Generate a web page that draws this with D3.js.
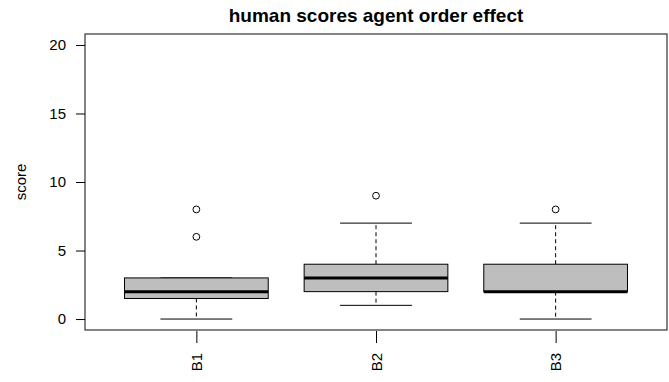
<!DOCTYPE html>
<html><head><meta charset="utf-8">
<script src="https://cdn.jsdelivr.net/npm/d3@7"></script>
<style>body{margin:0;background:#fff;} svg{display:block;}</style>
</head><body>
<script>
const categories = ["B1","B2","B3"];
const lowerWhisker = [0, 1, 0];
const q1 = [1.5, 2, 2];
const median = [2, 3, 2];
const q3 = [3, 4, 4];
const upperWhisker = [3, 7, 7];
const outliers = [[6, 8], [9], [8]];
const yTicks = [0, 5, 10, 15, 20];
const title = "human scores agent order effect";
const yLabel = "score";

(function () {
const W = 669, H = 382;
const pLeft = 85, pRight = 667, pTop = 34, pBottom = 330;
const svg = d3.select("body").append("svg").attr("width", W).attr("height", H);
const font = "'Liberation Sans', Arial, sans-serif";
const fs = 15;

const x = d3.scaleLinear().domain([0.38, 3.62]).range([pLeft, pRight]);
const y = d3.scaleLinear().domain([-0.8, 20.8]).range([pBottom, pTop]);
const step = x(2) - x(1);
const bw = step * 0.8, cw = bw * 0.5;

const data = categories.map((c, i) => ({c, i: i + 1, lw: lowerWhisker[i], q1: q1[i], med: median[i], q3: q3[i], uw: upperWhisker[i], out: outliers[i]}));

const g = svg.append("g");
data.forEach(d => {
  const cx = x(d.i);
  g.append("line").attr("x1", cx).attr("x2", cx).attr("y1", y(d.q3)).attr("y2", y(d.uw))
    .attr("stroke", "#000").attr("stroke-dasharray", "4,3");
  g.append("line").attr("x1", cx).attr("x2", cx).attr("y1", y(d.q1)).attr("y2", y(d.lw))
    .attr("stroke", "#000").attr("stroke-dasharray", "4,3");
  [d.lw, d.uw].forEach(v => g.append("line").attr("x1", cx - cw/2).attr("x2", cx + cw/2)
    .attr("y1", y(v)).attr("y2", y(v)).attr("stroke", "#000"));
  g.append("rect").attr("x", cx - bw/2).attr("width", bw).attr("y", y(d.q3)).attr("height", y(d.q1) - y(d.q3))
    .attr("fill", "#bebebe").attr("stroke", "#000").attr("stroke-width", 1);
  g.append("line").attr("x1", cx - bw/2).attr("x2", cx + bw/2).attr("y1", y(d.med)).attr("y2", y(d.med))
    .attr("stroke", "#000").attr("stroke-width", 3);
  d.out.forEach(v => g.append("circle").attr("cx", cx).attr("cy", y(v)).attr("r", 3.4)
    .attr("fill", "none").attr("stroke", "#000").attr("stroke-width", 1));
});

svg.append("rect").attr("x", pLeft).attr("y", pTop).attr("width", pRight - pLeft).attr("height", pBottom - pTop)
  .attr("fill", "none").attr("stroke", "#333").attr("stroke-width", 1.2);

const ya = svg.append("g").attr("transform", `translate(${pLeft - 9},0)`)
  .call(d3.axisLeft(y).tickValues(yTicks).tickSize(0).tickPadding(10).tickFormat(d3.format("d")));
ya.select(".domain").remove();
ya.selectAll(".tick line").attr("x2", 9).attr("stroke", "#000");
ya.selectAll("text").attr("font-family", font).attr("font-size", fs).attr("fill", "#000");

const xa = svg.append("g").attr("transform", `translate(0,${pBottom + 1})`)
  .call(d3.axisBottom(x).tickValues([1,2,3]).tickSize(12).tickFormat(d => categories[d-1]));
xa.select(".domain").remove();
xa.selectAll(".tick line").attr("stroke", "#000");
xa.selectAll(".tick text").attr("font-family", font).attr("font-size", fs).attr("fill", "#000")
  .attr("transform", "rotate(-90)").attr("text-anchor", "end").attr("x", -22).attr("y", 0).attr("dy", "0.35em");

svg.append("text").attr("x", (pLeft + pRight) / 2).attr("y", 22).attr("text-anchor", "middle")
  .attr("font-family", font).attr("font-weight", "bold").attr("font-size", 19).text(title);

svg.append("text").attr("transform", `translate(21,${(pTop + pBottom) / 2}) rotate(-90)`).attr("text-anchor", "middle")
  .attr("dy", "0.35em").attr("font-family", font).attr("font-size", fs).text(yLabel);
})();
</script>
</body></html>
